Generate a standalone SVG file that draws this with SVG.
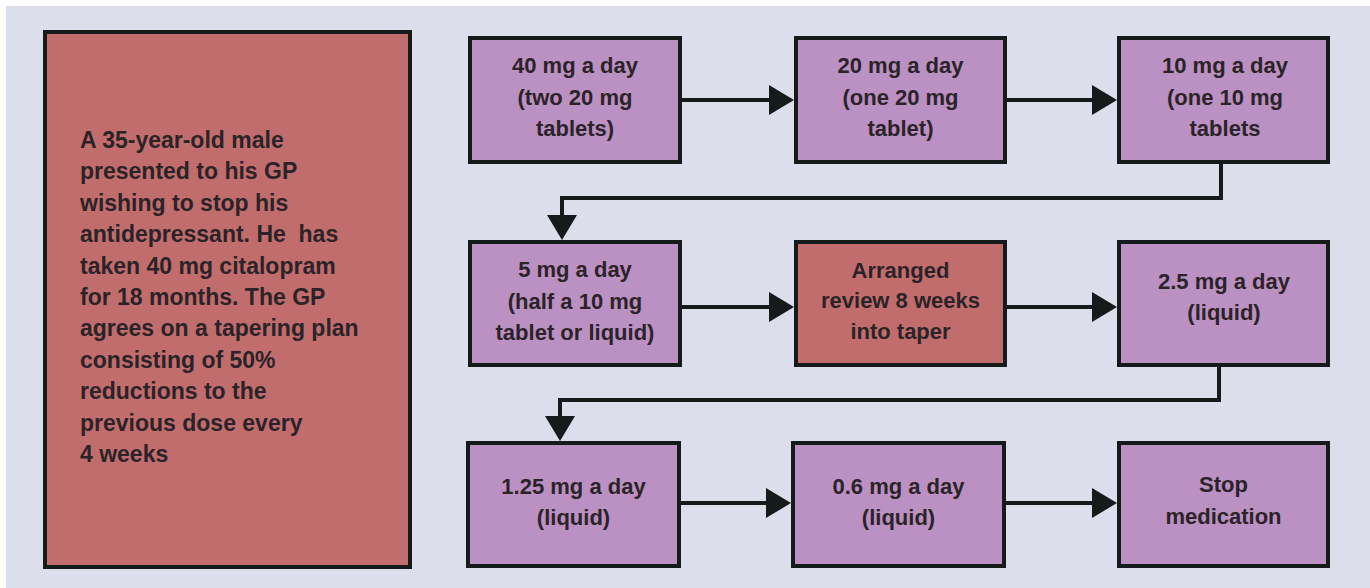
<svg xmlns="http://www.w3.org/2000/svg" width="1370" height="588" viewBox="0 0 1370 588">
<defs>
<style>
.box{stroke:#151a1a;stroke-width:4}
.p{fill:#bb90c3}
.r{fill:#c26d6d}
.t{font-family:"Liberation Sans",Arial,sans-serif;font-weight:bold;font-size:22px;fill:#2b2327}
.l{font-size:23px}
.c{text-anchor:middle}
.ln{fill:none;stroke:#151a1a;stroke-width:4}
</style>
<marker id="ah" markerUnits="userSpaceOnUse" markerWidth="25" markerHeight="30" refX="0" refY="15" orient="auto" viewBox="0 0 25 30">
<path d="M0,0 L25,15 L0,30 z" fill="#151a1a"/>
</marker>
</defs>
<rect x="0" y="0" width="1370" height="588" fill="#ffffff"/>
<rect x="6" y="6" width="1364" height="582" fill="#dcdeeb"/>

<g id="intro">
<rect class="box r" x="45" y="32" width="365" height="535"/>
<text class="t l" x="80" y="148">A 35-year-old male</text>
<text class="t l" x="80" y="179.4">presented to his GP</text>
<text class="t l" x="80" y="210.8">wishing to stop his</text>
<text class="t l" x="80" y="242.2" style="white-space:pre">antidepressant. He  has</text>
<text class="t l" x="80" y="273.6">taken 40 mg citalopram</text>
<text class="t l" x="80" y="305">for 18 months. The GP</text>
<text class="t l" x="80" y="336.4">agrees on a tapering plan</text>
<text class="t l" x="80" y="367.8">consisting of 50%</text>
<text class="t l" x="80" y="399.2">reductions to the</text>
<text class="t l" x="80" y="430.6">previous dose every</text>
<text class="t l" x="80" y="462">4 weeks</text>
</g>

<g id="connectors">
<path class="ln" d="M682,100 H769" marker-end="url(#ah)"/>
<path class="ln" d="M1007,100 H1092" marker-end="url(#ah)"/>
<path class="ln" d="M1221,164 V198 H562 V215" marker-end="url(#ah)"/>
<path class="ln" d="M682,307 H769" marker-end="url(#ah)"/>
<path class="ln" d="M1007,307 H1092" marker-end="url(#ah)"/>
<path class="ln" d="M1219,367 V400 H560 V416" marker-end="url(#ah)"/>
<path class="ln" d="M681,503 H766" marker-end="url(#ah)"/>
<path class="ln" d="M1006,503 H1092" marker-end="url(#ah)"/>
</g>

<g id="n40">
<rect class="box p" x="470" y="38" width="210" height="124"/>
<text class="t c" x="575" y="73">40 mg a day</text>
<text class="t c" x="575" y="105">(two 20 mg</text>
<text class="t c" x="575" y="136">tablets)</text>
</g>
<g id="n20">
<rect class="box p" x="796" y="38" width="209" height="124"/>
<text class="t c" x="900.5" y="73">20 mg a day</text>
<text class="t c" x="900.5" y="105">(one 20 mg</text>
<text class="t c" x="900.5" y="136">tablet)</text>
</g>
<g id="n10">
<rect class="box p" x="1119" y="38" width="209" height="124"/>
<text class="t c" x="1225" y="73">10 mg a day</text>
<text class="t c" x="1225" y="105">(one 10 mg</text>
<text class="t c" x="1225" y="136">tablets</text>
</g>

<g id="n5">
<rect class="box p" x="470" y="242" width="210" height="123"/>
<text class="t c" x="575" y="277">5 mg a day</text>
<text class="t c" x="575" y="309">(half a 10 mg</text>
<text class="t c" x="575" y="340">tablet or liquid)</text>
</g>
<g id="review">
<rect class="box r" x="796" y="242" width="209" height="123"/>
<text class="t c" x="900.5" y="278">Arranged</text>
<text class="t c" x="900.5" y="308">review 8 weeks</text>
<text class="t c" x="900.5" y="339">into taper</text>
</g>
<g id="n2_5">
<rect class="box p" x="1119" y="242" width="209" height="123"/>
<text class="t c" x="1224" y="289">2.5 mg a day</text>
<text class="t c" x="1224" y="320">(liquid)</text>
</g>

<g id="n1_25">
<rect class="box p" x="468" y="443" width="211" height="123"/>
<text class="t c" x="573.5" y="494">1.25 mg a day</text>
<text class="t c" x="573.5" y="525">(liquid)</text>
</g>
<g id="n0_6">
<rect class="box p" x="793" y="443" width="211" height="123"/>
<text class="t c" x="898.5" y="494">0.6 mg a day</text>
<text class="t c" x="898.5" y="525">(liquid)</text>
</g>
<g id="stop">
<rect class="box p" x="1119" y="443" width="209" height="123"/>
<text class="t c" x="1223.5" y="492">Stop</text>
<text class="t c" x="1223.5" y="524">medication</text>
</g>
</svg>
